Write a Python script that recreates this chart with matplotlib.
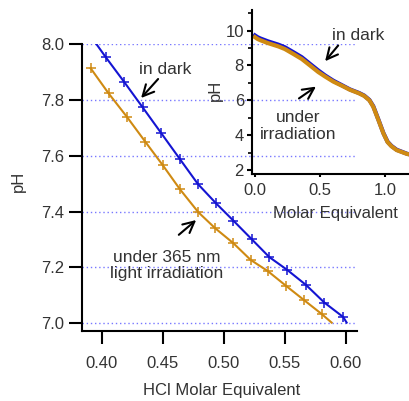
import matplotlib
matplotlib.use('Agg')
import matplotlib.pyplot as plt
import numpy as np

plt.rcParams['font.family'] = ['Liberation Sans', 'DejaVu Sans']

# main panel: pH vs HCl molar equivalent
dark_x = [0.3885, 0.4035, 0.4183, 0.4336, 0.4489, 0.4642, 0.4789, 0.4937, 0.5079,
          0.5230, 0.5374, 0.5521, 0.5675, 0.5825, 0.5980, 0.6008]
dark_ph = [8.045, 7.953, 7.866, 7.774, 7.681, 7.588, 7.499, 7.430, 7.368,
           7.301, 7.237, 7.191, 7.137, 7.074, 7.022, 7.002]
light_x = [0.3910, 0.4057, 0.4205, 0.4357, 0.4500, 0.4642, 0.4792, 0.4929, 0.5079,
           0.5221, 0.5361, 0.5511, 0.5658, 0.5803, 0.5885]
light_ph = [7.914, 7.824, 7.741, 7.651, 7.567, 7.480, 7.398, 7.341, 7.287,
            7.227, 7.187, 7.134, 7.083, 7.033, 7.002]

# inset: full titration curve
ins_x = [0.0, 0.02, 0.04, 0.10, 0.18, 0.23, 0.295, 0.36, 0.423, 0.487, 0.54, 0.603,
         0.67, 0.731, 0.80, 0.84, 0.88, 0.91, 0.95, 0.988, 1.02, 1.05, 1.09, 1.17, 1.22]
ins_dark = [9.72, 9.62, 9.55, 9.38, 9.19, 9.04, 8.76, 8.47, 8.09, 7.71, 7.42, 7.12,
            6.86, 6.62, 6.42, 6.27, 6.02, 5.66, 4.88, 4.12, 3.62, 3.38, 3.16, 2.93, 2.85]
ins_light = [9.62, 9.52, 9.45, 9.28, 9.09, 8.94, 8.66, 8.37, 8.00, 7.62, 7.36, 7.07,
             6.83, 6.60, 6.40, 6.25, 6.00, 5.63, 4.86, 4.10, 3.60, 3.36, 3.14, 2.92, 2.84]

blue = '#1414d2'
orange = '#cf8a12'
txt = '#333333'
arrow = dict(arrowstyle='->', lw=1.5, color='black', mutation_scale=20)

fig = plt.figure(figsize=(4.09, 4.01), dpi=100)
ax = fig.add_axes([0.2005, 0.1753, 0.6724, 0.7142])

ax.set_xlim(0.3839, 0.6093)
ax.set_ylim(6.973, 8.0)
yt = [7.0, 7.2, 7.4, 7.6, 7.8, 8.0]
for v in yt:
    ax.axhline(v, color='#7878ff', lw=1, ls=(0, (1, 2)), zorder=0)

ax.plot(dark_x, dark_ph, color=blue, lw=1.5, marker='+', ms=6.5, mew=1.1,
        markevery=list(range(len(dark_x) - 1)))
ax.plot(light_x, light_ph, color=orange, lw=1.5, marker='+', ms=6.5, mew=1.1,
        markevery=list(range(len(light_x) - 1)))

ax.set_xticks([0.40, 0.45, 0.50, 0.55, 0.60])
ax.set_xticklabels(['0.40', '0.45', '0.50', '0.55', '0.60'])
ax.set_yticks(yt)
ax.set_yticklabels(['7.0', '7.2', '7.4', '7.6', '7.8', '8.0'])
ax.tick_params(axis='x', length=9, width=1.5, pad=9, labelsize=12, labelcolor=txt)
ax.tick_params(axis='y', length=9.5, width=1.5, pad=3.5, labelsize=12, labelcolor=txt)
for s in ['top', 'right']:
    ax.spines[s].set_visible(False)
for s in ['left', 'bottom']:
    ax.spines[s].set_linewidth(1.5)

ax.set_ylabel('pH', fontsize=12, color=txt)
ax.yaxis.set_label_coords(-0.233, 0.523)
ax.yaxis.label.set_va('center')
ax.set_xlabel('HCl Molar Equivalent', fontsize=12, color=txt)
ax.xaxis.set_label_coords(0.509, -0.2105)
ax.xaxis.label.set_va('center')

ax.text(0.4519, 7.908, 'in dark', fontsize=12.5, color=txt, ha='center', va='center')
ax.annotate('', xy=(0.4308, 7.800), xytext=(0.4478, 7.883), arrowprops=arrow)
ax.text(0.4535, 7.2054, 'under 365 nm\nlight irradiation', fontsize=12.5, color=txt,
        ha='center', va='center', linespacing=1.1)
ax.annotate('', xy=(0.4792, 7.3763), xytext=(0.4615, 7.3104), arrowprops=arrow)

# inset
ia = fig.add_axes([0.6154, 0.5661, 0.3894, 0.409])
ia.set_facecolor('none')
ia.set_xlim(-0.025, 1.2)
ia.set_ylim(1.77, 11.18)
ia.plot(ins_x, ins_dark, color=blue, lw=3)
ia.plot(ins_x, ins_light, color=orange, lw=3)
ia.set_xticks([0.0, 0.5, 1.0])
ia.set_xticklabels(['0.0', '0.5', '1.0'])
ia.set_yticks([2, 4, 6, 8, 10])
ia.set_yticks([3, 5, 7, 9, 11], minor=True)
ia.tick_params(axis='x', length=2.5, width=1.5, pad=4, labelsize=12, labelcolor=txt)
ia.tick_params(axis='y', length=3.6, width=1.5, pad=2, labelsize=12, labelcolor=txt)
ia.tick_params(axis='y', which='minor', length=3, width=1.2)
for s in ['top', 'right']:
    ia.spines[s].set_visible(False)
for s in ['left', 'bottom']:
    ia.spines[s].set_linewidth(1.5)
ia.set_ylabel('pH', fontsize=12, color=txt)
ia.yaxis.set_label_coords(-0.2305, 0.512)
ia.yaxis.label.set_va('center')
ia.set_xlabel('Molar Equivalent', fontsize=12, color=txt)
ia.xaxis.set_label_coords(0.523, -0.238)
ia.xaxis.label.set_va('center')

ia.text(0.792, 9.742, 'in dark', fontsize=12.5, color=txt, ha='center', va='center')
ia.annotate('', xy=(0.526, 8.119), xytext=(0.654, 9.266), arrowprops=arrow)
ia.text(0.331, 4.524, 'under\nirradiation', fontsize=12.5, color=txt,
        ha='center', va='center', linespacing=1.1)
ia.annotate('', xy=(0.487, 6.875), xytext=(0.321, 6.015), arrowprops=arrow)

fig.savefig('out.png', dpi=100)
